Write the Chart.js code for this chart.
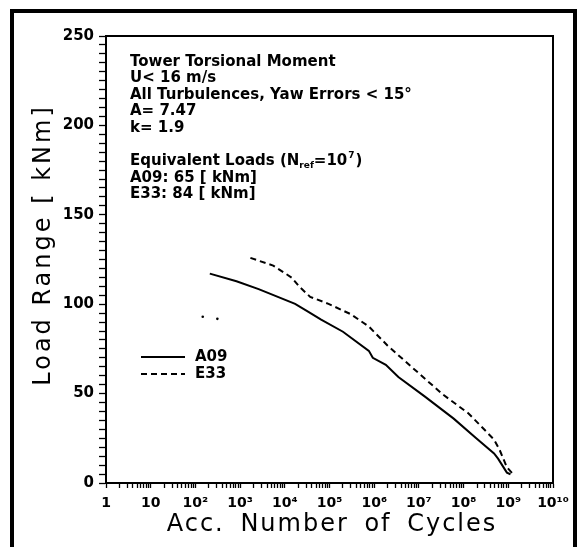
<!DOCTYPE html>
<html>
<head>
<meta charset="utf-8">
<script src="https://cdn.jsdelivr.net/npm/chart.js@4.4.1/dist/chart.umd.min.js"></script>
<style>
  html, body { margin: 0; padding: 0; background: #fff; }
  canvas { display: block; }
</style>
</head>
<body>
<canvas id="c" width="578" height="547"></canvas>
<script>
// ---- data ----
const a09Cycles = [2.1e2, 8.3e2, 2.6e3, 1.7e4, 3.1e4, 6.5e4, 2.0e5, 7.6e5, 9.3e5, 1.82e6, 3.47e6, 1.32e7, 6.0e7, 1.86e8, 4.8e8, 5.9e8, 9.3e8, 1.12e9];
const a09Loads  = [117.1, 112.8, 108.4, 100.2, 96.3, 91.4, 84.6, 73.9, 70.0, 66.1, 59.3, 48.6, 36.0, 25.3, 16.5, 13.6, 5.8, 4.9];
const e33Cycles = [1.7e3, 5.5e3, 1.44e4, 2.1e4, 3.7e4, 9.5e4, 3.0e5, 7.6e5, 2.0e6, 7.4e6, 3.4e7, 1.29e8, 4.8e8, 6.4e8, 9.3e8, 1.24e9];
const e33Loads  = [125.9, 121.6, 114.8, 109.9, 104.1, 100.2, 94.4, 87.5, 76.8, 64.2, 49.6, 38.9, 24.3, 18.5, 8.8, 5.3];
const strayCycles = [1.46e2, 3.1e2];
const strayLoads  = [93.0, 91.8];

const seriesNames = ['A09', 'E33'];
const xTickLabels = ['1', '10', '10²', '10³', '10⁴', '10⁵', '10⁶', '10⁷', '10⁸', '10⁹', '10¹⁰'];
const yTickLabels = ['0', '50', '100', '150', '200', '250'];
const infoLines = ['Tower Torsional Moment', 'U< 16 m/s', 'All Turbulences, Yaw Errors < 15°', 'A= 7.47', 'k= 1.9'];
const eqTitle = ['Equivalent Loads (N', 'ref', '=10', '7', ')'];
const eqLines = ['A09: 65 [ kNm]', 'E33: 84 [ kNm]'];
const xTitle = 'Acc. Number of Cycles';
const yTitle = 'Load Range [ kNm]';

const toXY = (xs, ys) => xs.map((x, i) => ({ x: x, y: ys[i] }));

const BOLD = 'bold 15px "DejaVu Sans"';

const decor = {
  id: 'decor',
  afterDraw(chart) {
    const ctx = chart.ctx;
    const ca = chart.chartArea;
    ctx.save();
    // outer frame
    ctx.strokeStyle = '#000';
    ctx.lineWidth = 4;
    ctx.strokeRect(12, 11, 563, 560);
    // top and right plot borders
    ctx.lineWidth = 2;
    ctx.beginPath();
    ctx.moveTo(ca.left, ca.top);
    ctx.lineTo(ca.right, ca.top);
    ctx.lineTo(ca.right, ca.bottom);
    ctx.stroke();

    // info text
    ctx.fillStyle = '#000';
    ctx.font = BOLD;
    ctx.textBaseline = 'middle';
    ctx.textAlign = 'left';
    const x0 = 130;
    infoLines.forEach((t, i) => ctx.fillText(t, x0, 62 + i * 16.5));
    // Equivalent loads line with sub/superscript
    let x = x0, y = 161.5;
    ctx.font = BOLD;
    ctx.fillText(eqTitle[0], x, y); x += ctx.measureText(eqTitle[0]).width;
    ctx.font = 'bold 9px "DejaVu Sans"';
    ctx.fillText(eqTitle[1], x, y + 4); x += ctx.measureText(eqTitle[1]).width;
    ctx.font = BOLD;
    ctx.fillText(eqTitle[2], x, y); x += ctx.measureText(eqTitle[2]).width;
    ctx.font = 'bold 9px "DejaVu Sans"';
    ctx.fillText(eqTitle[3], x + 1, y - 6); x += ctx.measureText(eqTitle[3]).width + 2;
    ctx.font = BOLD;
    ctx.fillText(eqTitle[4], x, y);
    eqLines.forEach((t, i) => ctx.fillText(t, x0, 178 + i * 16.5));

    // legend
    chart.data.datasets.slice(0, 2).forEach((ds, i) => {
      const ly = 357 + i * 17;
      ctx.strokeStyle = ds.borderColor;
      ctx.lineWidth = ds.borderWidth;
      ctx.setLineDash(ds.borderDash || []);
      ctx.beginPath();
      ctx.moveTo(141, ly);
      ctx.lineTo(185, ly);
      ctx.stroke();
      ctx.setLineDash([]);
      ctx.fillStyle = '#000';
      ctx.font = BOLD;
      ctx.fillText(ds.label, 195, ly);
    });

    // axis titles
    ctx.fillStyle = '#000';
    ctx.font = '24px "DejaVu Sans"';
    ctx.textAlign = 'center';
    ctx.textBaseline = 'middle';
    try { ctx.letterSpacing = '2px'; ctx.wordSpacing = '6px'; } catch (e) {}
    ctx.fillText(xTitle, 332, 525);
    try { ctx.letterSpacing = '3px'; ctx.wordSpacing = '0px'; } catch (e) {}
    ctx.translate(44, 245);
    ctx.rotate(-Math.PI / 2);
    ctx.fillText(yTitle, 0, 0);
    ctx.restore();
  }
};

const xTickValues = [];
for (let e = 0; e < 10; e++) {
  for (let s = 1; s < 10; s++) xTickValues.push(s * Math.pow(10, e));
}
xTickValues.push(1e10);

new Chart(document.getElementById('c'), {
  type: 'line',
  data: {
    datasets: [
      { label: seriesNames[0], data: toXY(a09Cycles, a09Loads), borderColor: '#000', borderWidth: 2, pointRadius: 0, fill: false, tension: 0 },
      { label: seriesNames[1], data: toXY(e33Cycles, e33Loads), borderColor: '#000', borderWidth: 2, borderDash: [6, 4], pointRadius: 0, fill: false, tension: 0 },
      { label: 'stray', data: toXY(strayCycles, strayLoads), showLine: false, pointRadius: 1.3, pointBackgroundColor: '#000', pointBorderWidth: 0 }
    ]
  },
  options: {
    responsive: false,
    animation: false,
    devicePixelRatio: 1,
    layout: { padding: { top: 36, right: 25, left: 0, bottom: 0 } },
    plugins: { legend: { display: false }, tooltip: { enabled: false } },
    scales: {
      x: {
        type: 'logarithmic',
        min: 1, max: 1e10,
        afterBuildTicks(scale) { scale.ticks = xTickValues.map(v => ({ value: v })); },
        afterFit(scale) { scale.height = 64; },
        border: { color: '#000', width: 2 },
        grid: { drawOnChartArea: false, drawTicks: true, tickLength: 5, tickColor: '#000', tickWidth: 1.3 },
        ticks: {
          autoSkip: false, maxRotation: 0, padding: 7, color: '#000',
          font: { family: 'DejaVu Sans', weight: 'bold', size: 14 },
          callback(v) {
            const e = Math.log10(v);
            if (Math.abs(e - Math.round(e)) < 1e-9) return xTickLabels[Math.round(e)];
            return '';
          }
        }
      },
      y: {
        type: 'linear',
        min: 0, max: 250,
        afterFit(scale) { scale.width = 106; },
        border: { color: '#000', width: 2 },
        grid: { drawOnChartArea: false, drawTicks: true, tickLength: 7, tickColor: '#000', tickWidth: 1.3 },
        ticks: {
          stepSize: 5, autoSkip: false, padding: 5, color: '#000',
          font: { family: 'DejaVu Sans', weight: 'bold', size: 15 },
          callback(v) { return v % 50 === 0 ? yTickLabels[v / 50] : ''; }
        }
      }
    }
  },
  plugins: [decor]
});
</script>
</body>
</html>
